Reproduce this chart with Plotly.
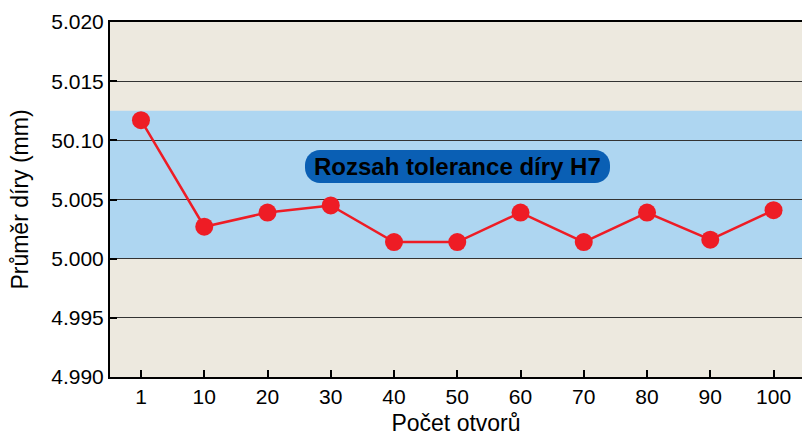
import plotly.graph_objects as go

categories = ["1", "10", "20", "30", "40", "50", "60", "70", "80", "90", "100"]
diameters = [5.0117, 5.0027, 5.0039, 5.0045, 5.0014, 5.0014, 5.0039, 5.0014, 5.0039, 5.0016, 5.0041]
y_tick_vals = [4.990, 4.995, 5.000, 5.005, 5.010, 5.015, 5.020]
y_tick_text = ["4.990", "4.995", "5.000", "5.005", "50.10", "5.015", "5.020"]
tol_low, tol_high = 5.000, 5.0125
band_label = "Rozsah tolerance díry H7"

W, H = 802, 436
L, R, T, B = 110, 0, 22, 59
pw, ph = W - L - R, H - T - B

def rounded_rect_path(x0, y0, x1, y1, r):
    # pixel coords -> paper coords
    def p(x, y):
        return f"{(x - L) / pw:.5f},{(H - B - y) / ph:.5f}"
    k = 0.5523 * r
    d = [f"M {p(x0 + r, y0)}",
         f"L {p(x1 - r, y0)}",
         f"C {p(x1 - r + k, y0)} {p(x1, y0 + r - k)} {p(x1, y0 + r)}",
         f"L {p(x1, y1 - r)}",
         f"C {p(x1, y1 - r + k)} {p(x1 - r + k, y1)} {p(x1 - r, y1)}",
         f"L {p(x0 + r, y1)}",
         f"C {p(x0 + r - k, y1)} {p(x0, y1 - r + k)} {p(x0, y1 - r)}",
         f"L {p(x0, y0 + r)}",
         f"C {p(x0, y0 + r - k)} {p(x0 + r - k, y0)} {p(x0 + r, y0)}",
         "Z"]
    return " ".join(d)

fig = go.Figure()
fig.add_trace(go.Scatter(
    x=categories, y=diameters, mode="lines+markers",
    line=dict(color="#ee1c25", width=2.5),
    marker=dict(color="#ee1c25", size=18),
    showlegend=False, cliponaxis=False,
))

fig.add_shape(type="rect", xref="paper", yref="y", x0=0, x1=1, y0=tol_low, y1=tol_high,
              fillcolor="#aed6f1", line=dict(width=0), layer="below")
fig.add_shape(type="path", xref="paper", yref="paper",
              path=rounded_rect_path(305, 150, 610, 183, 15),
              fillcolor="#0a5fb4", line=dict(width=0), layer="between")
fig.add_annotation(x=(457.5 - L) / pw, y=(H - B - 166.5) / ph, xref="paper", yref="paper",
                   text=f"<b>{band_label}</b>", showarrow=False,
                   font=dict(family="Liberation Sans, Arial", size=24, color="#000000"))

fig.update_layout(
    width=W, height=H,
    margin=dict(l=L, r=R, t=T, b=B),
    paper_bgcolor="#ffffff", plot_bgcolor="#ede9df",
    font=dict(family="Liberation Sans, Arial", color="#000000"),
    xaxis=dict(
        type="category", range=[-0.49, 10.45],
        showgrid=False, showline=True, linecolor="#000000", linewidth=2, mirror=True,
        ticks="inside", ticklen=7, tickwidth=2, tickcolor="#000000",
        tickfont=dict(size=21),
        title=dict(text="Počet otvorů", font=dict(size=23), standoff=13),
    ),
    yaxis=dict(
        range=[4.990, 5.020], tickvals=y_tick_vals, ticktext=y_tick_text,
        showgrid=True, gridcolor="#333333", gridwidth=1,
        showline=True, linecolor="#000000", linewidth=2,
        ticks="inside", ticklen=7, tickwidth=2, tickcolor="#000000",
        tickfont=dict(size=21), zeroline=False,
        title=dict(text="Průměr díry (mm)", font=dict(size=23), standoff=16),
    ),
)

fig.write_html("out.html", config={"displayModeBar": False},
               post_script="document.body.style.margin='0';")
